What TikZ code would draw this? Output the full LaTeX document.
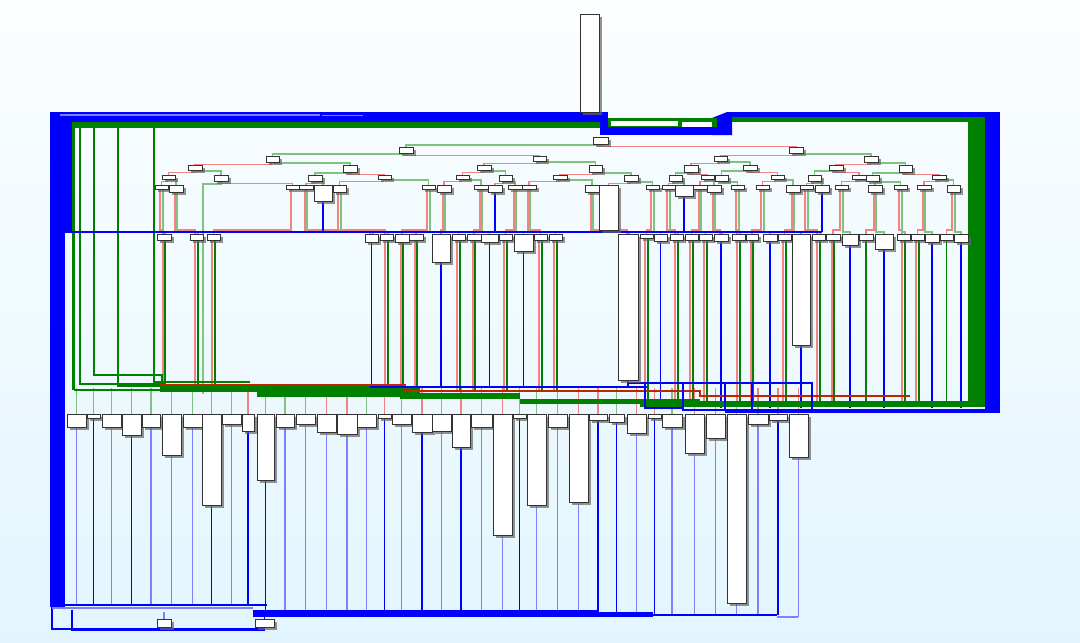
\documentclass[tikz,border=0pt]{standalone}
\usetikzlibrary{shadows}

\definecolor{dblue}{RGB}{0,0,255}
\definecolor{lblue}{RGB}{128,128,255}
\definecolor{dgreen}{RGB}{0,128,0}
\definecolor{lgreen}{RGB}{128,195,128}
\definecolor{lred}{RGB}{245,130,130}
\definecolor{brn}{RGB}{190,40,0}
\definecolor{bgtop}{RGB}{252,254,255}
\definecolor{bgbot}{RGB}{226,245,254}

\pgfdeclarelayer{back}
\pgfdeclarelayer{bg}
\pgfsetlayers{back,bg,main}

\tikzset{
  blk/.style={draw=black!80, fill=white, line width=0.5pt, inner sep=0pt, outer sep=0pt,
    drop shadow={shadow xshift=1.5pt, shadow yshift=-1.5pt, opacity=0.7, fill=black!60}},
  redE/.style={draw=lred, line width=1.1pt},
  grnE/.style={draw=lgreen, line width=1.1pt},
  dgrnE/.style={draw=dgreen, line width=1.1pt},
  bluE/.style={draw=dblue, line width=1.1pt},
  inR/.style={redE},
  inG/.style={grnE},
  outD/.style={draw=dblue, line width=1.1pt},
  outL/.style={draw=lblue, line width=1.1pt},
  band/.style={dgreen, line width=1.2pt}
}

\begin{document}
\begin{tikzpicture}[x=0.02cm, y=-0.02cm]
\useasboundingbox (0,0) rectangle (1080,643);
\begin{pgfonlayer}{back}
\shade[top color=bgtop, bottom color=bgbot] (0,0) rectangle (1080,643);
\end{pgfonlayer}

% levels used by the long edges
\coordinate (bl) at (0,232);
\coordinate (bdL) at (0,392);
\coordinate (bdR) at (0,403);
\coordinate (bbL) at (0,387);
\coordinate (bbR) at (0,408);
\coordinate (busL) at (0,605);
\coordinate (busM) at (0,613);
\coordinate (busR) at (0,615);
\coordinate (busX) at (0,617);

% outer blue loop
\fill[dblue] (50,112) rectangle (65,607);
\fill[dblue] (50,112) rectangle (72,232);
\fill[dblue] (50,112) rectangle (602,122);
\fill[dblue] (600,112) rectangle (608,135);
\fill[dblue] (600,127) rectangle (732,135);
\fill[dblue] (712,118) -- (727,112) -- (732,112) -- (732,135) -- (712,135) -- cycle;
\fill[dblue] (730,112) rectangle (1000,117);
\fill[dblue] (985,112) rectangle (1000,413);
\fill[dblue] (725,409) rectangle (1000,413);
\draw[lblue, line width=0.6pt] (60,115) -- (320,115);
\draw[lblue, line width=0.6pt] (322,115.5) -- (363,115.5);

% inner green loop
\fill[dgreen] (72,122) rectangle (600,128);
\fill[dgreen] (72,122) rectangle (75,390);
\fill[dgreen] (608,118) rectangle (717,127);
\fill[white] (611,121) rectangle (678,126);
\fill[white] (682,121.5) rectangle (712,126.5);
\fill[dgreen] (732,117) rectangle (985,122);
\fill[dgreen] (968,117) rectangle (985,407);
\fill[dgreen] (640,401) rectangle (985,407);
\draw[band] (80,125) |- (165,384);
\draw[band] (94,125) |- (162,375) -- (162,387);
\draw[band] (118,125) |- (240,386);
\draw[band] (154,125) |- (250,382);
\draw[band] (74,390) -- (170,390);

% merge bundle above the lower row
\fill[dgreen] (160,386) rectangle (420,392);
\fill[dgreen] (257,392) rectangle (420,397);
\fill[dgreen] (400,393) rectangle (520,399);
\fill[dgreen] (520,399) rectangle (700,404);
\draw[brn, line width=1.4pt] (160,385) -- (405,385) -- (405,391) -- (700,391) -- (700,396) -- (910,396);
\draw[dblue, line width=1.5pt] (65,232) -- (822,232);
\draw[dblue, line width=1.3pt] (370,387) -- (647,387);
\draw[dblue, line width=1.3pt] (627,383) -- (813,383);
\draw[dblue, line width=1.3pt] (645,383) rectangle (683,408);
\draw[dblue, line width=1.3pt] (683,383) rectangle (725,410);
\draw[dblue, line width=1.3pt] (752,383) rectangle (812,410);

% bottom return bundle
\draw[dblue, line width=1.2pt] (50,605) -- (267,605);
\draw[lblue, line width=1pt] (52,608) -- (253,608);
\fill[dblue] (253,610) rectangle (598,617);
\fill[dblue] (598,612) rectangle (653,617);
\draw[dblue, line width=1.2pt] (653,615) -- (777,615);
\draw[lblue, line width=1pt] (777,617) -- (798,617);

% blocks, upper part
\foreach \n/\xl/\yt/\xr/\yb in {
  t0/580/14/599/112,
  a/593/137/608/144,
  b1/399/147/413/153, b2/789/147/803/153,
  c1/266/156/279/162, c2/533/156/546/161, c3/714/156/727/161, c4/864/156/878/162,
  d1/188/165/202/170, d2/343/165/357/172, d3/477/165/491/170, d4/589/165/602/172,
  d5/684/165/698/172, d6/743/165/757/170, d7/829/165/843/170, d8/899/165/912/172,
  e1/162/175/175/179, e2/214/175/228/181, e3/308/175/322/181, e4/378/175/391/179,
  e5/456/175/469/179, e6/499/175/512/181, e7/553/175/567/179, e8/624/175/638/181,
  e9/669/175/682/181, e10/701/175/714/179, e11/715/175/728/181, e12/771/175/784/179,
  e13/808/175/821/181, e14/852/175/866/179, e15/866/175/879/181, e16/932/175/946/179,
  f1/155/185/168/189, f2/169/185/183/192, f3/286/185/299/189, f4/299/185/313/189,
  f5/314/185/332/201, f6/333/185/346/192, f7/422/185/435/189, f8/437/185/451/192,
  f9/474/185/488/189, f10/488/185/502/192, f11/508/185/522/189, f12/522/185/536/189,
  f13/585/185/599/192, f14/599/185/618/230, f15/646/185/659/189, f16/662/185/675/189,
  f17/675/185/693/196, f18/693/185/707/189, f19/707/185/721/192, f20/731/185/744/189,
  f21/756/185/769/189, f22/786/185/800/192, f23/800/185/813/189, f24/815/185/829/192,
  f25/835/185/848/189, f26/868/185/882/192, f27/894/185/907/189, f28/917/185/931/189,
  f29/947/185/960/192,
  z1/157/619/171/627, z2/255/619/274/627}
  \node[blk, minimum width={(\xr-\xl)*0.2mm}, minimum height={(\yb-\yt)*0.2mm}]
    (\n) at ({(\xl+\xr)/2},{(\yt+\yb)/2}) {};

% blocks under the blue line
\foreach \n/\xl/\xr/\yb in {
  g1/157/171/240, g2/190/203/240, g3/207/220/240, g4/365/378/242, g5/380/393/240,
  g6/395/409/242, g7/409/423/240, g8/432/450/262, g9/452/465/240, g10/467/481/240,
  g11/481/498/242, g12/499/512/240, g13/514/533/251, g14/534/547/240, g15/549/562/240,
  g16/618/638/380, g17/640/653/238, g18/654/667/241, g19/670/683/240, g20/685/698/240,
  g21/699/712/240, g22/714/728/241, g23/732/745/240, g24/746/758/240, g25/763/777/241,
  g26/778/791/240, g27/792/810/345, g28/812/825/240, g29/826/840/240, g30/842/858/245,
  g31/859/873/240, g32/875/893/249, g33/897/910/240, g34/911/924/240, g35/925/939/242,
  g36/940/953/240, g37/954/968/242}
  \node[blk, minimum width={(\xr-\xl)*0.2mm}, minimum height={(\yb-234)*0.2mm}]
    (\n) at ({(\xl+\xr)/2},{(234+\yb)/2}) {};

% lower row, with its in and out edges
\foreach \n/\xl/\xr/\yb/\i/\o/\bus in {
  h1/67/86/427/inG/outL/busL, h2/87/100/418/inR/outD/busL, h3/102/121/427/inG/outL/busL,
  h4/122/141/435/inR/outD/busL, h5/142/160/427/inG/outL/busL, h6/162/181/455/inG/outL/busL,
  h7/183/202/427/inG/outL/busL, h8/202/221/505/inR/outD/busL, h9/222/241/424/inR/outL/busL,
  h10/242/254/431/inR/outD/busL, h11/257/274/480/inR/outD/busM, h12/276/294/427/inG/outL/busM,
  h13/296/315/424/inR/outL/busM, h14/317/336/432/inR/outL/busM, h15/337/357/434/inR/outL/busM,
  h16/357/376/427/inG/outL/busM, h17/378/391/418/inR/outD/busM, h18/392/411/424/inR/outL/busM,
  h19/412/432/432/inR/outD/busM, h20/432/451/431/inG/outL/busM, h21/452/470/447/inR/outD/busM,
  h22/471/492/427/inG/outL/busM, h23/493/512/535/inR/outL/busM, h24/513/526/418/inG/outD/busM,
  h25/527/546/505/inG/outL/busM, h26/548/567/427/inR/outL/busM, h27/569/588/502/inR/outL/busM,
  h28/589/607/420/inR/outD/busM, h29/609/624/422/inG/outD/busR, h30/627/646/433/inR/outL/busR,
  h31/648/661/418/inR/outD/busR, h32/662/682/427/inG/outL/busR, h33/685/704/453/inR/outL/busR,
  h34/706/725/438/inG/outL/busR, h35/727/746/603/inG/outL/busR, h36/748/768/424/inR/outL/busR,
  h37/769/787/420/inR/outD/busR, h38/789/808/457/inR/outL/busX}
{
  \node[blk, minimum width={(\xr-\xl)*0.2mm}, minimum height={(\yb-414)*0.2mm}]
    (\n) at ({(\xl+\xr)/2},{(414+\yb)/2}) {};
  \begin{pgfonlayer}{bg}
    \draw[\i] (\n.north) -- ++(0,-26);
    \draw[\o] (\n.south) -- (\n.south |- \bus);
  \end{pgfonlayer}
}

\begin{pgfonlayer}{bg}
% branch tree: false (red) and true (green) edges
\foreach \pa/\ch in {a/b2, b1/c2, b2/c3, c1/d1, c2/d3, c3/d5, c4/d7, d1/e1, d2/e4,
  d3/e5, d4/e7, d5/e10, d6/e12, d7/e14, d8/e16, e1/f1, e2/f3, e3/f4, e4/f6, e5/f8,
  e6/f10, e7/f12, e8/f14, e9/f16, e10/f18, e12/f21, e13/f23, e14/f25, e16/f28}
  \draw[redE] ([xshift=-0.7pt]\pa.south) -- ++(0,2.5) -| (\ch.north);
\foreach \pa/\ch in {a/b1, b1/c1, b2/c4, c1/d2, c2/d4, c3/d6, c4/d8, d1/e2, d2/e3,
  d3/e6, d4/e8, d5/e9, d6/e11, d7/e13, d8/e15, e1/f2, e3/f5, e4/f7, e5/f9, e6/f11,
  e7/f13, e8/f15, e9/f17, e10/f19, e11/f20, e12/f22, e13/f24, e14/f26, e15/f27, e16/f29}
  \draw[grnE] ([xshift=0.7pt]\pa.south) -- ++(0,1) -| (\ch.north);

% edges across the blue line
\foreach \pa/\ch in {f1/g1, f2/g2, f4/g4, f6/g5, f13/g16, f16/g19, f19/g22, f20/g23,
  f23/g28, f27/g33}
{
  \draw[redE] ([xshift=-0.7pt]\pa.south) |- ([xshift=-0.7pt,yshift=2.4pt]\ch.north) -- ([xshift=-0.7pt]\ch.north);
  \draw[grnE] ([xshift=0.7pt]\pa.south) |- ([xshift=0.7pt,yshift=1.4pt]\ch.north) -- ([xshift=0.7pt]\ch.north);
}
\foreach \pa/\ch in {f3/g3, f7/g6, f8/g8, f9/g10, f11/g12, f12/g14, f15/g17, f18/g20,
  f21/g24, f22/g26, f25/g29, f26/g31, f28/g34, f29/g36}
  \draw[redE] ([xshift=-0.7pt]\pa.south) |- ([yshift=2.4pt]\ch.north) -- (\ch.north);
\foreach \pa/\ch in {f7/g7, f8/g9, f9/g11, f11/g13, f12/g15, f15/g18, f18/g21,
  f21/g25, f22/g27, f25/g30, f26/g32, f28/g35, f29/g37}
  \draw[grnE] ([xshift=0.7pt]\pa.south) |- ([yshift=1.4pt]\ch.north) -- (\ch.north);
\draw[grnE] (e2.south) -- ++(0,3) -| ++(-18,210);
\foreach \n in {f5, f10, f14, f17, f24}
  \draw[bluE] (\n.south) -- (\n.south |- bl);

% edges down into the bundle
\foreach \n/\bd in {g1/bdL, g2/bdL, g3/bdL, g5/bdL, g6/bdL, g7/bdL, g9/bdL, g10/bdL,
  g12/bdL, g14/bdL, g15/bdL, g17/bdR, g19/bdR, g20/bdR, g21/bdR, g23/bdR, g24/bdR,
  g26/bdR, g28/bdR, g29/bdR, g33/bdR, g34/bdR}
{
  \draw[redE] ([xshift=-0.7pt]\n.south) -- ([xshift=-0.7pt]\n.south |- \bd);
  \draw[dgrnE] ([xshift=0.7pt]\n.south) -- ([xshift=0.7pt]\n.south |- \bd);
}
\foreach \n in {g31, g36}
  \draw[dgrnE] (\n.south) -- (\n.south |- bdR);
\foreach \n/\bd in {g4/bbL, g8/bbL, g11/bbL, g13/bbL, g16/bbL, g18/bbR, g22/bbR,
  g25/bbR, g27/bbR, g30/bbR, g32/bbR, g35/bbR, g37/bbR}
  \draw[bluE] (\n.south) -- (\n.south |- \bd);

% exits of the two bottom blocks
\draw[bluE] (52,606) |- ([yshift=-1pt]z2.south) -- (z2.south);
\draw[bluE] (72,610) |- ([yshift=-2pt]z2.south);
\draw[outL] (z1.north) -- ++(0,-7);
\draw[outD] (z2.north) -- ++(0,-7);
\end{pgfonlayer}
\end{tikzpicture}
\end{document}
